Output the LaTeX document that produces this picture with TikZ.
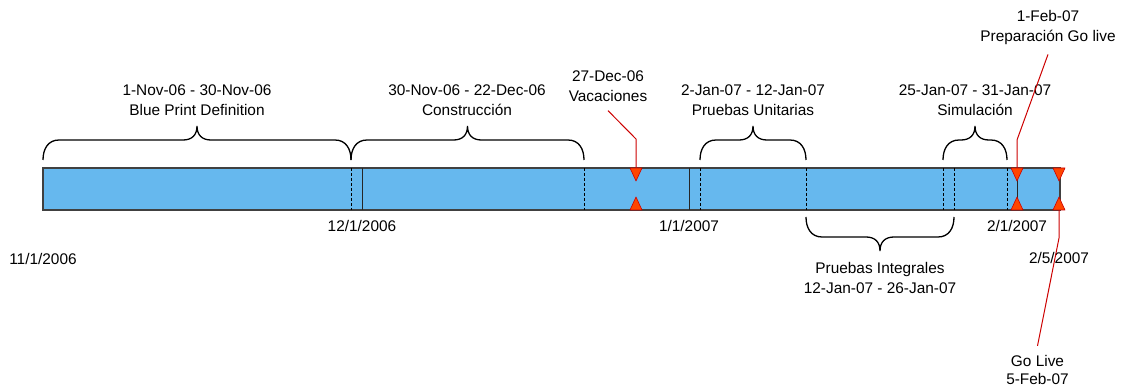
\documentclass[tikz,border=0pt]{standalone}
\usepackage{fontspec}
\setmainfont{Liberation Sans}
\definecolor{barblue}{RGB}{102,184,238}
\definecolor{calloutred}{RGB}{204,0,0}
\definecolor{markorange}{RGB}{255,69,0}

\begin{document}
\begin{tikzpicture}[x=1pt, y=-1pt,
    lbl/.style={align=center, inner sep=0pt, font=\fontsize{15.4}{20}\selectfont},
    callout/.style={lbl, inner ysep=9pt},
    brace/.style={draw=black, line width=1.3pt},
    datemark/.style={black!85, line width=1pt},
    taskmark/.style={black, line width=1pt, dash pattern=on 3pt off 2pt},
    redline/.style={calloutred, line width=1pt},
    flag/.style={fill=markorange, draw=calloutred, line width=0.6pt, line join=round}]
  \useasboundingbox (0,0) rectangle (1122,387);
  % timeline bar, 1 Nov 06 to 5 Feb 07
  \draw[fill=barblue, draw=black!75, line width=1.2pt] (43,168) rectangle (1060,210);
  \foreach \x in {351,584,700,806,943,954,1007}
    \draw[taskmark] (\x,168) -- (\x,210);
  \foreach \x in {362,689,1017}
    \draw[datemark] (\x,168) -- (\x,210);
  % dates under the bar
  \foreach \x/\y/\txt [count=\i] in {43/259/{11/1/2006}, 362/226/{12/1/2006},
      689/226/{1/1/2007}, 1017/226/{2/1/2007}, 1059/258/{2/5/2007}}
    \node[lbl] (date\i) at (\x,\y) {\txt};
  % braces over (and under) each phase
  \foreach \a/\b/\y/\s in {43/351/160/1, 351/584/160/1, 700/806/160/1,
      943/1007/160/1, 806/954/217/-1} {
    \pgfmathsetmacro\tip{(\a+\b)/2}
    \draw[brace] (\a,\y) .. controls (\a,{\y-(\s)*11}) and (\a+5,{\y-(\s)*20}) .. (\a+16,{\y-(\s)*20})
      -- (\tip-14,{\y-(\s)*20}) .. controls (\tip-5,{\y-(\s)*20}) and (\tip,{\y-(\s)*25}) .. (\tip,{\y-(\s)*34})
      .. controls (\tip,{\y-(\s)*25}) and (\tip+5,{\y-(\s)*20}) .. (\tip+14,{\y-(\s)*20})
      -- (\b-16,{\y-(\s)*20}) .. controls (\b-5,{\y-(\s)*20}) and (\b,{\y-(\s)*11}) .. (\b,\y);
  }
  % phase labels
  \node[lbl] (blueprint) at (197,100) {1-Nov-06 - 30-Nov-06\\Blue Print Definition};
  \node[lbl] (constr) at (467,100) {30-Nov-06 - 22-Dec-06\\Construcción};
  \node[lbl] (unit) at (753,100) {2-Jan-07 - 12-Jan-07\\Pruebas Unitarias};
  \node[lbl] (sim) at (975,100) {25-Jan-07 - 31-Jan-07\\Simulación};
  \node[lbl] (integ) at (880,277.5) {Pruebas Integrales\\12-Jan-07 - 26-Jan-07};
  % milestones
  \node[callout] (vac) at (608,86) {27-Dec-06\\Vacaciones};
  \node[callout] (prep) at (1048,28) {1-Feb-07\\Preparación Go live};
  \node[callout, font=\fontsize{15.4}{18.5}\selectfont] (live) at (1037.5,370) {Go Live\\5-Feb-07};
  \foreach \m/\x in {vac/636, prep/1017, live/1059} {
    \coordinate (\m-t) at (\x,168);
    \coordinate (\m-b) at (\x,210);
  }
  \draw[redline] (vac.south) -- ([yshift=29pt]vac-t) -- (vac-t);
  \draw[redline] (prep.south) -- ([yshift=28pt]prep-t) -- (prep-t);
  \draw[redline] (live-b) -- ([yshift=-28pt]live-b) -- (live.north);
  \foreach \m in {vac, prep, live} {
    \draw[flag] ([xshift=-6pt]\m-t) -- ([xshift=6pt]\m-t) -- ([yshift=-13pt]\m-t) -- cycle;
    \draw[flag] ([xshift=-6pt]\m-b) -- ([xshift=6pt]\m-b) -- ([yshift=13pt]\m-b) -- cycle;
  }
\end{tikzpicture}
\end{document}
